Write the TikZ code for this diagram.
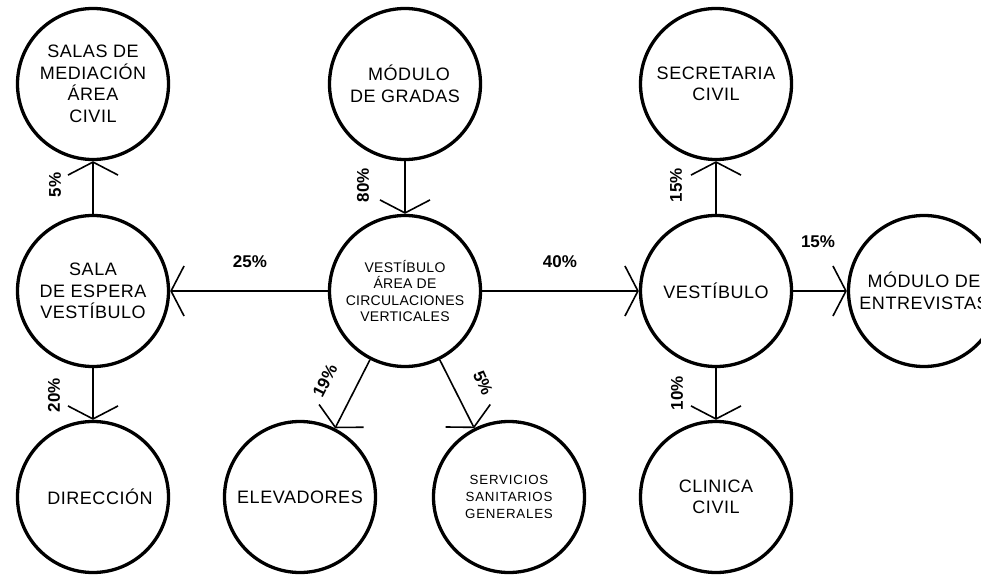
\documentclass[tikz,border=0pt]{standalone}
\usepackage{fontspec}
\setmainfont{Liberation Sans}
\usetikzlibrary{arrows.meta}
\begin{document}
\begin{tikzpicture}[x=1pt,y=-1pt,
  place/.style={draw, circle, line width=3.3pt, minimum size=151pt, inner sep=0pt, align=center, font=\fontsize{18}{21.5}\selectfont\addfontfeatures{LetterSpace=3}},
  small/.style={font=\fontsize{14}{16.3}\selectfont\addfontfeatures{LetterSpace=2}},
  tiny/.style={font=\fontsize{13.3}{17}\selectfont\addfontfeatures{LetterSpace=6}},
  flow/.style={line width=1.6pt, -{Straight Barb[length=13pt,width=50pt,line width=1.6pt]}},
  pct/.style={font=\bfseries\fontsize{17}{20}\selectfont, inner sep=0pt}]
\useasboundingbox (0,0) rectangle (981,575);
\clip (0,0) rectangle (981,575);
% circles
\node[place] (med)  at (93,84)   {SALAS DE\\MEDIACIÓN\\ÁREA\\CIVIL};
\node[place] (sala) at (93,291)  {SALA\\DE ESPERA\\VESTÍBULO};
\node[place] (dir)  at (93,497)  {\hspace*{14pt}DIRECCIÓN};
\node[place] (grad) at (405,84)  {\hspace*{8pt}MÓDULO\\DE GRADAS};
\node[place, small] (cen) at (405,291) {VESTÍBULO\\ÁREA DE\\CIRCULACIONES\\VERTICALES};
\node[place] (elev) at (300,497) {ELEVADORES};
\node[place, tiny] (serv) at (509,497) {SERVICIOS\\SANITARIOS\\GENERALES};
\node[place] (sec)  at (716,84)  {SECRETARIA\\CIVIL};
\node[place] (vest) at (716,291) {VESTÍBULO};
\node[place] (cli)  at (716,497) {CLINICA\\CIVIL};
\node[place] (ent)  at (924,291) {MÓDULO DE\\ENTREVISTAS};
% connectors
\draw[flow] (sala) -- (med);
\draw[flow] (cen) -- (sala);
\draw[flow] (sala) -- (dir);
\draw[flow] (grad) -- (cen);
\draw[flow] (cen) -- (elev);
\draw[flow] (cen) -- (serv);
\draw[flow] (cen) -- (vest);
\draw[flow] (vest) -- (sec);
\draw[flow] (vest) -- (ent);
\draw[flow] (vest) -- (cli);
% labels
\node[pct, rotate=90] (p1) at (55,185)  {5\%};
\node[pct, rotate=90] (p2) at (54,395)  {20\%};
\node[pct, rotate=90] (p3) at (363,185) {80\%};
\node[pct, rotate=90] (p4) at (676,185) {15\%};
\node[pct, rotate=90] (p5) at (677,393) {10\%};
\node[pct] (p6) at (250,262) {25\%};
\node[pct] (p7) at (560,262) {40\%};
\node[pct] (p8) at (818,242) {15\%};
\node[pct, rotate=63] (p9) at (325,381) {19\%};
\node[pct, rotate=-66] (p10) at (483,383) {5\%};
\end{tikzpicture}
\end{document}
